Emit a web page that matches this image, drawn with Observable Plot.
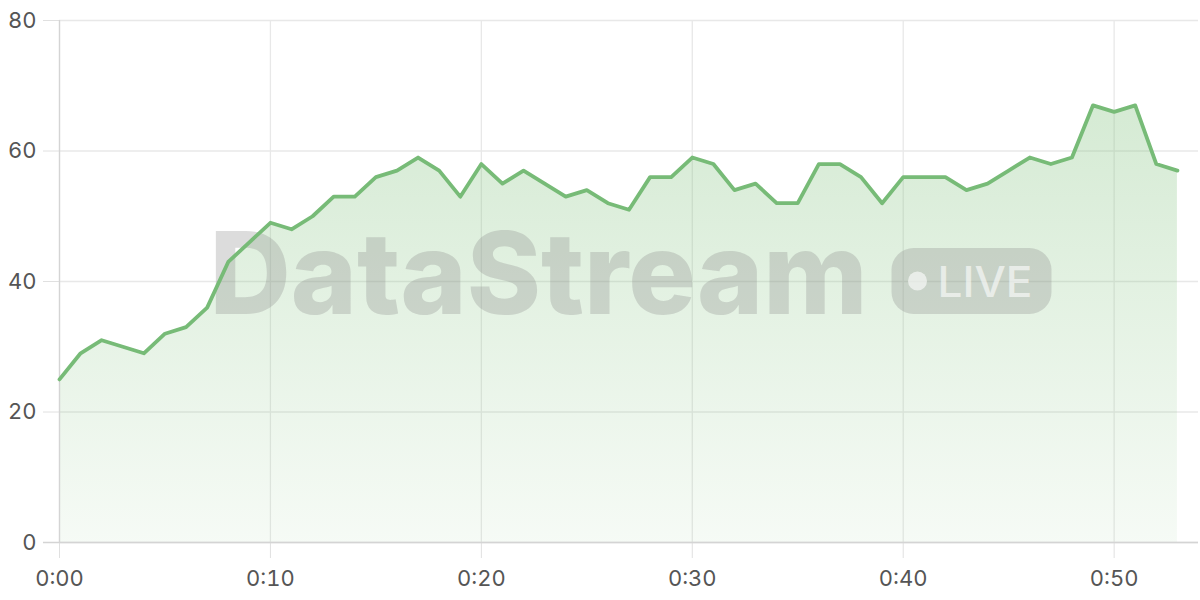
<!DOCTYPE html>
<html>
<head>
<meta charset="utf-8">
<script src="https://cdn.jsdelivr.net/npm/d3@7"></script>
<script src="https://cdn.jsdelivr.net/npm/@observablehq/plot@0.6"></script>
<style>
  html, body { margin: 0; padding: 0; background: #fff; }
  #chart svg { display: block; font-family: Inter, "Noto Sans", sans-serif; }
</style>
</head>
<body>
<div id="chart"></div>
<script>
// Minutes elapsed and the streamed value at each minute
const minutes = d3.range(0, 54);
const values = [25, 29, 31, 30, 29, 32, 33, 36, 43, 46,
                49, 48, 50, 53, 53, 56, 57, 59, 57, 53,
                58, 55, 57, 55, 53, 54, 52, 51, 56, 56,
                59, 58, 54, 55, 52, 52, 58, 58, 56, 52,
                56, 56, 56, 54, 55, 57, 59, 58, 59, 67,
                66, 67, 58, 57];
const xTicks = [0, 10, 20, 30, 40, 50];
const yTicks = [0, 20, 40, 60, 80];
const brand = "DataStream";
const badge = "LIVE";

const data = minutes.map((m, i) => ({m, v: values[i]}));
const fmt = d => `0:${String(d).padStart(2, "0")}`;

const gradientDefs = () => {
  const defs = d3.create("svg:defs");
  const g = defs.append("linearGradient").attr("id", "areaGrad")
    .attr("x1", 0).attr("y1", 0).attr("x2", 0).attr("y2", 1);
  g.append("stop").attr("offset", "0%").attr("stop-color", "#7cbf78").attr("stop-opacity", 0.32);
  g.append("stop").attr("offset", "100%").attr("stop-color", "#7cbf78").attr("stop-opacity", 0.07);
  return defs.node();
};

const watermark = (index, scales, values, dims) => {
  const cx = (dims.marginLeft + dims.width - dims.marginRight) / 2 + 2;
  const cy = (dims.marginTop + dims.height - dims.marginBottom) / 2;
  const g = d3.create("svg:g").attr("pointer-events", "none").attr("text-anchor", "start");
  g.append("text")
    .attr("x", cx - 421).attr("y", cy + 33)
    .attr("text-anchor", "start")
    .attr("font-family", "Inter, 'Noto Sans', sans-serif")
    .attr("font-weight", 800).attr("font-size", 114)
    .attr("textLength", 658).attr("lengthAdjust", "spacingAndGlyphs")
    .attr("fill", "#8a8a8a").attr("fill-opacity", 0.3)
    .text(brand);
  g.append("rect")
    .attr("x", cx + 261).attr("y", cy - 33).attr("width", 160).attr("height", 66)
    .attr("rx", 22).attr("fill", "#8a8a8a").attr("fill-opacity", 0.3);
  g.append("circle")
    .attr("cx", cx + 287).attr("cy", cy).attr("r", 9.5)
    .attr("fill", "#fff").attr("fill-opacity", 0.6);
  g.append("text")
    .attr("x", cx + 307).attr("y", cy + 15.5)
    .attr("text-anchor", "start")
    .attr("font-family", "Inter, 'Noto Sans', sans-serif")
    .attr("font-weight", 500).attr("font-size", 43)
    .attr("textLength", 95).attr("lengthAdjust", "spacingAndGlyphs")
    .attr("fill", "#fff").attr("fill-opacity", 0.6)
    .text(badge);
  return g.node();
};

const chart = Plot.plot({
  width: 1200,
  height: 600,
  marginLeft: 59,
  marginRight: 2,
  marginTop: 20,
  marginBottom: 58,
  style: {fontSize: "22px", color: "#555", background: "#fff"},
  x: {domain: [0, 54]},
  y: {domain: [0, 80]},
  marks: [
    gradientDefs,
    Plot.gridY(yTicks, {stroke: "#e8e8e8", strokeOpacity: 1, strokeWidth: 1.3}),
    Plot.gridX(xTicks, {stroke: "#e8e8e8", strokeOpacity: 1, strokeWidth: 1.3}),
    Plot.areaY(data, {x: "m", y: "v", fill: "url(#areaGrad)", curve: "linear"}),
    watermark,
    Plot.axisY({ticks: yTicks, tickSize: 16, tickPadding: 7, stroke: "#e0e0e0", strokeOpacity: 1, fill: "#555", label: null}),
    Plot.axisX({ticks: xTicks, tickSize: 16, tickPadding: 12, tickFormat: fmt, stroke: "#e0e0e0", strokeOpacity: 1, fill: "#555", label: null}),
    Plot.ruleX([0], {stroke: "#d4d4d4", strokeWidth: 1.3}),
    Plot.ruleY([0], {stroke: "#d4d4d4", strokeWidth: 1.3, x1: -0.76, x2: 54}),
    Plot.lineY(data, {x: "m", y: "v", stroke: "#77bb77", strokeWidth: 3.8, strokeLinejoin: "round", curve: "linear"})
  ]
});
document.getElementById("chart").appendChild(chart);
</script>
</body>
</html>
